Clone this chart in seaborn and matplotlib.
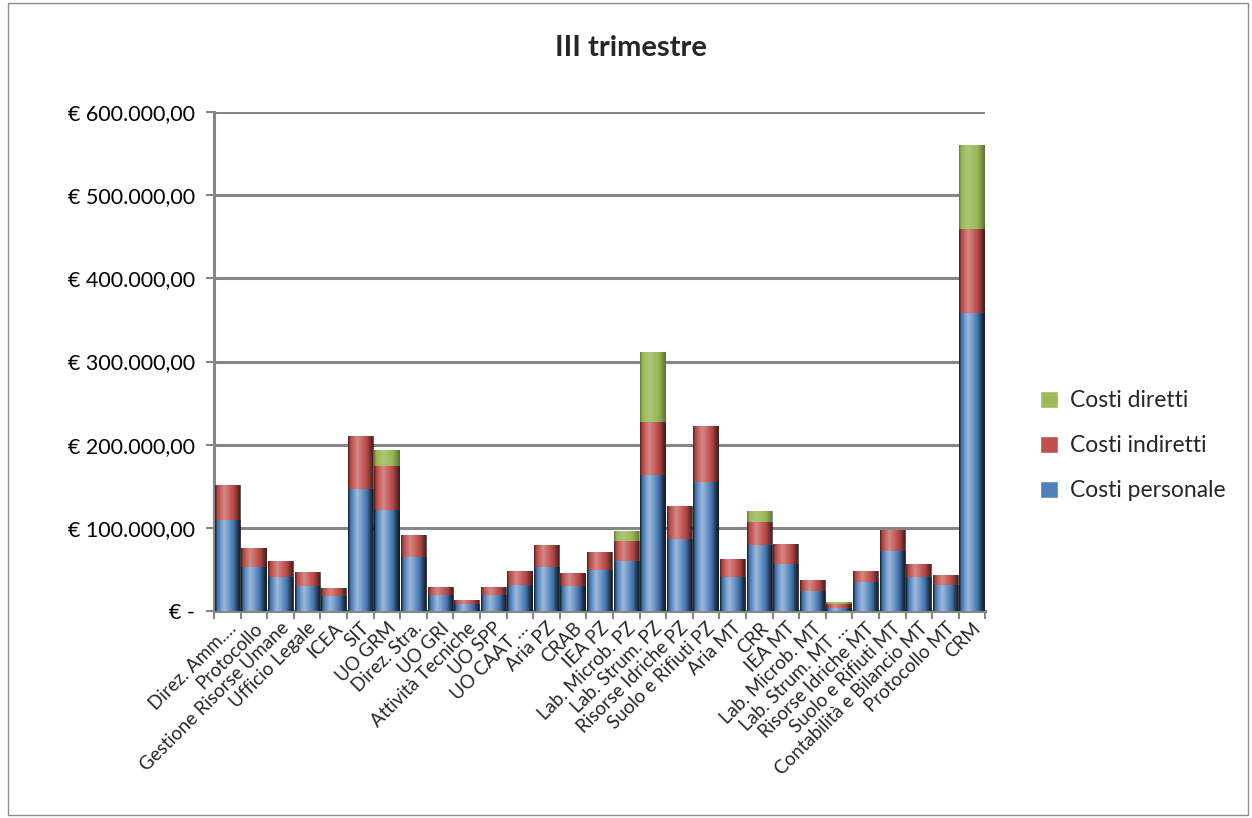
import numpy as np
import pandas as pd
import matplotlib
matplotlib.use("Agg")
import matplotlib.pyplot as plt
from matplotlib.patches import Rectangle
from matplotlib.ticker import FuncFormatter, FixedLocator
import seaborn as sns

# Units and their quarterly costs (euro)
units = [
    "Direz. Amm.…", "Protocollo", "Gestione Risorse Umane", "Ufficio Legale", "ICEA",
    "SIT", "UO GRM", "Direz. Stra.", "UO GRI", "Attività Tecniche", "UO SPP",
    "UO CAAT …", "Aria PZ", "CRAB", "IEA PZ", "Lab. Microb. PZ", "Lab. Strum. PZ",
    "Risorse Idriche PZ", "Suolo e Rifiuti PZ", "Aria MT", "CRR", "IEA MT",
    "Lab. Microb. MT", "Lab. Strum. MT …", "Risorse Idriche MT", "Suolo e Rifiuti MT",
    "Contabilità e Bilancio MT", "Protocollo MT", "CRM",
]
costi_personale = [109000, 53000, 41000, 30000, 18000, 147000, 121000, 64500, 19000, 9000,
                   19000, 31000, 53000, 30000, 49000, 60000, 163000, 87000, 155000, 41000,
                   79000, 57000, 24000, 4000, 35000, 72000, 41000, 31000, 358000]
costi_indiretti = [42000, 23000, 19000, 16500, 10000, 63000, 53000, 26500, 10000, 4000,
                   10000, 17000, 27000, 16000, 22000, 24000, 64000, 39000, 67000, 21000,
                   28000, 24000, 13000, 4400, 13000, 26000, 16000, 12000, 101000]
costi_diretti = [0, 0, 0, 0, 0, 0, 20000, 0, 0, 0,
                 0, 0, 0, 0, 0, 12000, 85000, 0, 0, 0,
                 13000, 0, 0, 2600, 0, 0, 0, 0, 101000]
series_names = ["Costi diretti", "Costi indiretti", "Costi personale"]
y_ticks = [0, 100000, 200000, 300000, 400000, 500000, 600000]

BLUE, RED, GREEN = "#4F81BD", "#C0504D", "#9BBB59"
GRID = "#868686"

df = pd.DataFrame({
    "unit": units,
    "personale": costi_personale,
    "indiretti": costi_indiretti,
    "diretti": costi_diretti,
})
df["lvl1"] = df["personale"]
df["lvl2"] = df["personale"] + df["indiretti"]
df["lvl3"] = df["lvl2"] + df["diretti"]

sns.set_theme(style="white")
plt.rcParams["font.family"] = ["Lato", "DejaVu Sans"]

fig = plt.figure(figsize=(12.52, 8.18), dpi=100)
ax = fig.add_axes([0.171, 0.253, 0.616, 0.610])

for col, color in [("lvl3", GREEN), ("lvl2", RED), ("lvl1", BLUE)]:
    sns.barplot(data=df, x="unit", y=col, color=color, width=0.95,
                saturation=1, linewidth=0, edgecolor="none", ax=ax, zorder=3)

# cylinder-like horizontal shading on each segment
shade = np.linspace(0, 1, 64)
prof = np.interp(shade, [0, 0.08, 0.35, 0.75, 1.0], [-0.35, -0.05, 0.18, -0.05, -0.4])
rgba = np.zeros((1, 64, 4))
rgba[0, :, :3] = np.where(prof[:, None] > 0, 1.0, 0.0)
rgba[0, :, 3] = np.abs(prof)
for p in list(ax.patches):
    x0, y0 = p.get_x(), p.get_y()
    w, h = p.get_width(), p.get_height()
    if h <= 0:
        continue
    im = ax.imshow(rgba, extent=(x0, x0 + w, y0, y0 + h), aspect="auto",
                   interpolation="bilinear", zorder=4)
    im.set_clip_path(p)

ax.set_xlim(-0.5, len(units) - 0.5)
ax.set_ylim(0, 600000)
ax.set_xlabel("")
ax.set_ylabel("")

ax.yaxis.set_major_locator(FixedLocator(y_ticks))

def euro(v, _):
    if v == 0:
        return "€ -"
    return "€ " + f"{v:,.2f}".replace(",", "X").replace(".", ",").replace("X", ".")

ax.yaxis.set_major_formatter(FuncFormatter(euro))
ax.tick_params(axis="y", labelsize=15.5, length=6, width=1.5,
               direction="out", left=True, pad=8, colors=GRID, labelcolor="black")
ax.grid(axis="y", color=GRID, linewidth=2.2, zorder=0)
ax.set_axisbelow(True)

ax.set_xticks(range(len(units)))
ax.set_xticklabels(units, rotation=45, ha="right", rotation_mode="anchor", fontsize=13.5)
ax.tick_params(axis="x", length=0, pad=6)
ax.set_xticks(np.arange(-0.5, len(units), 1.0), minor=True)
ax.tick_params(axis="x", which="minor", length=6, width=1.5, color=GRID, bottom=True)

for side in ["top", "right"]:
    ax.spines[side].set_visible(False)
for side in ["left", "bottom"]:
    ax.spines[side].set_color(GRID)
    ax.spines[side].set_linewidth(2.2)

fig.text(0.504, 0.941, "III trimestre", ha="center", va="center",
         fontsize=21, fontweight="bold")

handles = [Rectangle((0, 0), 1, 1, facecolor=c) for c in (GREEN, RED, BLUE)]
fig.legend(handles, series_names, loc="center left", bbox_to_anchor=(0.814, 0.455),
           frameon=False, fontsize=16.5, handlelength=0.8, handleheight=0.8,
           labelspacing=1.05, handletextpad=0.5)

fig.patches.append(Rectangle((0.006, 0.004), 0.991, 0.992, transform=fig.transFigure,
                             fill=False, edgecolor="#8c8c8c", linewidth=1.0))

fig.savefig("out.png", dpi=100, facecolor="white")
